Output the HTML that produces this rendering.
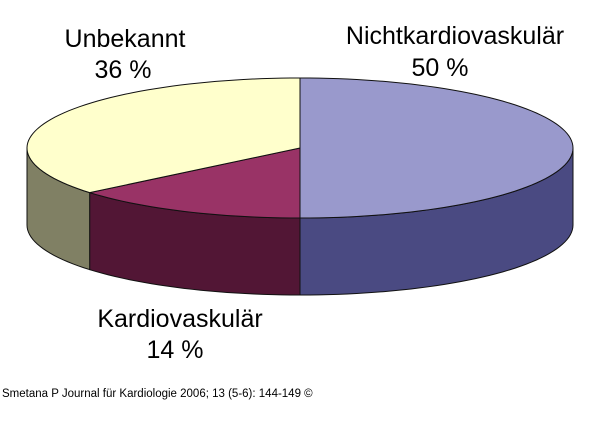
<!DOCTYPE html>
<html><head><meta charset="utf-8"><style>
body{margin:0;background:#fff;width:600px;height:442px;overflow:hidden;font-family:"Liberation Sans",sans-serif}
</style></head><body>
<svg id="c" width="600" height="442" viewBox="0 0 600 442" xmlns="http://www.w3.org/2000/svg">
<g id="slices"></g>
<g font-family="Liberation Sans, sans-serif" font-size="25" fill="#000" text-anchor="middle">
<text id="l0a" x="455" y="44"></text>
<text id="l0b" x="440" y="76"></text>
<text id="l1a" x="180" y="327"></text>
<text id="l1b" x="175" y="358"></text>
<text id="l2a" x="125" y="47"></text>
<text id="l2b" x="123" y="78"></text>
</g>
<text x="2" y="397" font-size="11.5" font-family="Liberation Sans, sans-serif">Smetana P Journal für Kardiologie 2006; 13 (5-6): 144-149 ©</text>
</svg>
<script>
const categories=["Nichtkardiovaskulär","Kardiovaskulär","Unbekannt"];
const values=[50,14,36];
const topColors=["#9999cc","#993366","#ffffcc"];
const sideColors=["#4a4a82","#521635","#808064"];
const cx=300,cy=148,rx=273,ry=70,depth=77;
const g=document.getElementById('slices');
const NS="http://www.w3.org/2000/svg";
function pt(deg,dy){const r=deg*Math.PI/180;return [cx+rx*Math.sin(r),cy-ry*Math.cos(r)+(dy||0)];}
function arc(a,b,dy){let s="";const n=Math.max(2,Math.ceil(Math.abs(b-a)/2));for(let i=0;i<=n;i++){const p=pt(a+(b-a)*i/n,dy);s+=(i?"L":"")+p[0].toFixed(2)+","+p[1].toFixed(2);}return s;}
const total=values.reduce((x,y)=>x+y,0);
let start=0;const ranges=[];
values.forEach(v=>{const e=start+v/total*360;ranges.push([start,e]);start=e;});
ranges.forEach((r,i)=>{const a=Math.max(r[0],90),b=Math.min(r[1],270);if(b>a){
 const p=document.createElementNS(NS,'path');
 p.setAttribute('d',"M"+arc(a,b,0)+"L"+arc(b,a,depth).slice(0)+"Z");
 p.setAttribute('fill',sideColors[i]);p.setAttribute('stroke','#111');p.setAttribute('stroke-width','1');
 
 
 g.appendChild(p);}});
ranges.forEach((r,i)=>{
 const p=document.createElementNS(NS,'path');
 p.setAttribute('d',"M"+cx+","+cy+"L"+arc(r[0],r[1],0)+"Z");
 p.setAttribute('fill',topColors[i]);p.setAttribute('stroke','#111');p.setAttribute('stroke-width','1');
 
 
 g.appendChild(p);});
for(let i=0;i<3;i++){document.getElementById('l'+i+'a').textContent=categories[i];document.getElementById('l'+i+'b').textContent=values[i]+" %";}
</script>
</body></html>
